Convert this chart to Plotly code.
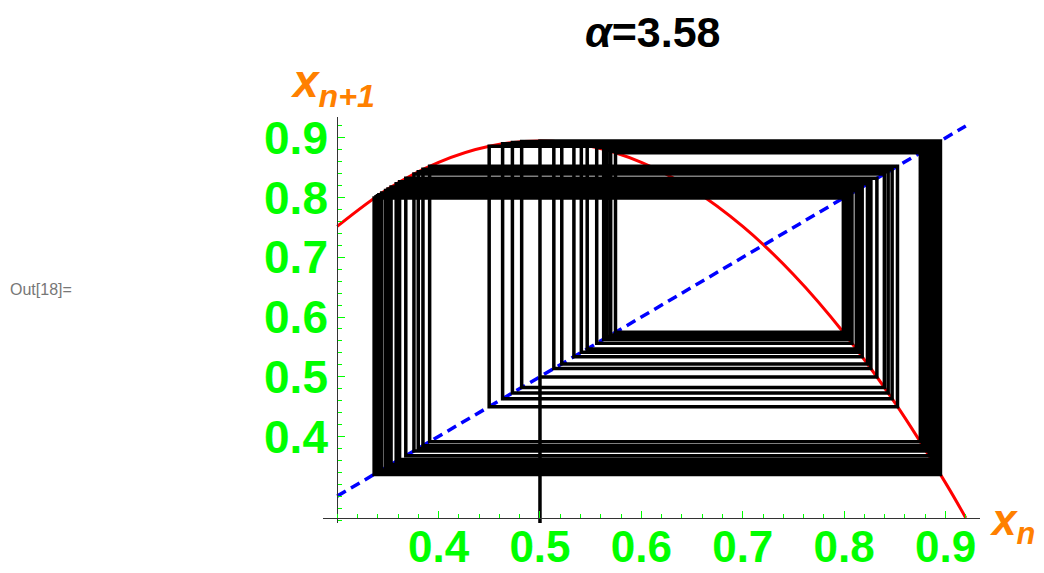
import plotly.graph_objects as go

# logistic map cobweb, alpha = 3.58, start x0 = 0.5
alpha = 3.58
orbit = [0.5, 0.895, 0.33643, 0.79922, 0.57448, 0.87514, 0.39118, 0.85261,
         0.44989, 0.88602, 0.36154, 0.82637, 0.51367, 0.89433, 0.33832, 0.80142,
         0.56974, 0.87759, 0.38459, 0.84732, 0.46315, 0.89014, 0.35010, 0.81455,
         0.54078, 0.88905, 0.35314, 0.81779, 0.53346, 0.89099, 0.34771, 0.81197,
         0.54658, 0.88723, 0.35818, 0.82300, 0.52150, 0.89334, 0.34110, 0.80461,
         0.56283, 0.88087, 0.37568, 0.83967, 0.48195, 0.89383, 0.33972, 0.80304,
         0.56625, 0.87930, 0.37995, 0.84341, 0.47282, 0.89235, 0.34389, 0.80774,
         0.55596, 0.88380, 0.36766, 0.83230, 0.49969]

# red parabola
curve_x = [0.30, 0.35, 0.40, 0.45, 0.50, 0.55, 0.60, 0.65, 0.70, 0.75, 0.80, 0.85, 0.90, 0.92]
curve_y = [0.7518, 0.8145, 0.8592, 0.8861, 0.8950, 0.8861, 0.8592, 0.8145, 0.7518,
           0.6713, 0.5728, 0.4565, 0.3222, 0.2635]

# blue dashed diagonal
diag_x = [0.30, 0.92]
diag_y = [0.30, 0.92]

tick_vals = [0.4, 0.5, 0.6, 0.7, 0.8, 0.9]
tick_text = ["0.4", "0.5", "0.6", "0.7", "0.8", "0.9"]

# cobweb path: start on the x axis, then up to curve / across to diagonal
web_x = [orbit[0]]
web_y = [0.0]
for a, b in zip(orbit[:-1], orbit[1:]):
    web_x += [a, b]
    web_y += [b, b]

fig = go.Figure()
fig.add_trace(go.Scatter(x=curve_x, y=curve_y, mode="lines",
                         line=dict(color="#FF0000", width=3, shape="spline")))
fig.add_trace(go.Scatter(x=diag_x, y=diag_y, mode="lines",
                         line=dict(color="#0000FF", width=3.5, dash="10px,6px")))
fig.add_trace(go.Scatter(x=web_x, y=web_y, mode="lines",
                         line=dict(color="#000000", width=3.5)))

x_rng = [0.286, 0.934]
y_rng = [0.255, 0.935]
green = "#00FF00"
yfont = dict(family="Liberation Sans", size=46, color=green, weight="bold")
xfont = dict(family="Liberation Sans", size=44, color=green, weight="bold")

# page body adds 8px, so margins are shifted by that much
fig.update_layout(
    width=1044, height=573,
    margin=dict(l=315, r=72, t=109, b=58),
    paper_bgcolor="white", plot_bgcolor="white",
    showlegend=False,
    xaxis=dict(range=x_rng, showgrid=False, zeroline=False, automargin=False,
               showline=True, linecolor="#333333", linewidth=1,
               anchor="free", position=(0.2635 - y_rng[0]) / (y_rng[1] - y_rng[0]),
               tickvals=tick_vals, ticktext=tick_text, ticks="inside",
               ticklen=7, tickwidth=1, tickcolor=green, tickfont=xfont,
               ticklabelstandoff=-10,
               minor=dict(dtick=0.02, tick0=0.3, ticks="inside", ticklen=4,
                          tickcolor=green, tickwidth=1)),
    yaxis=dict(range=y_rng, showgrid=False, zeroline=False, automargin=False,
               showline=True, linecolor="#333333", linewidth=1,
               anchor="free", position=(0.3 - x_rng[0]) / (x_rng[1] - x_rng[0]),
               tickvals=tick_vals, ticktext=tick_text, ticks="inside",
               ticklen=7, tickwidth=1, tickcolor=green, tickfont=yfont,
               minor=dict(dtick=0.02, tick0=0.3, ticks="inside", ticklen=4,
                          tickcolor=green, tickwidth=1)),
)

orange = "#FF8000"
fig.add_annotation(text="<i>α</i>=3.58", xref="paper", yref="paper",
                   x=0.5008, y=1.209, yanchor="middle", showarrow=False,
                   font=dict(family="Liberation Sans", size=43, color="black", weight="bold"))
fig.add_annotation(text="<i>x<sub>n+1</sub></i>", xref="paper", yref="paper",
                   x=-0.053, y=1.079, xanchor="left", yanchor="middle", showarrow=False,
                   font=dict(family="Liberation Sans", size=46, color=orange, weight="bold"))
fig.add_annotation(text="<i>x<sub>n</sub></i>", xref="paper", yref="paper",
                   x=1.012, y=0.0, xanchor="left", yanchor="middle", showarrow=False,
                   font=dict(family="Liberation Sans", size=44, color=orange, weight="bold"))
fig.add_annotation(text="Out[18]=", xref="paper", yref="paper",
                   x=-0.4795, y=0.574, xanchor="left", yanchor="middle", showarrow=False,
                   font=dict(family="Liberation Sans", size=16, color="#777777"))

fig.write_html("out.html")
